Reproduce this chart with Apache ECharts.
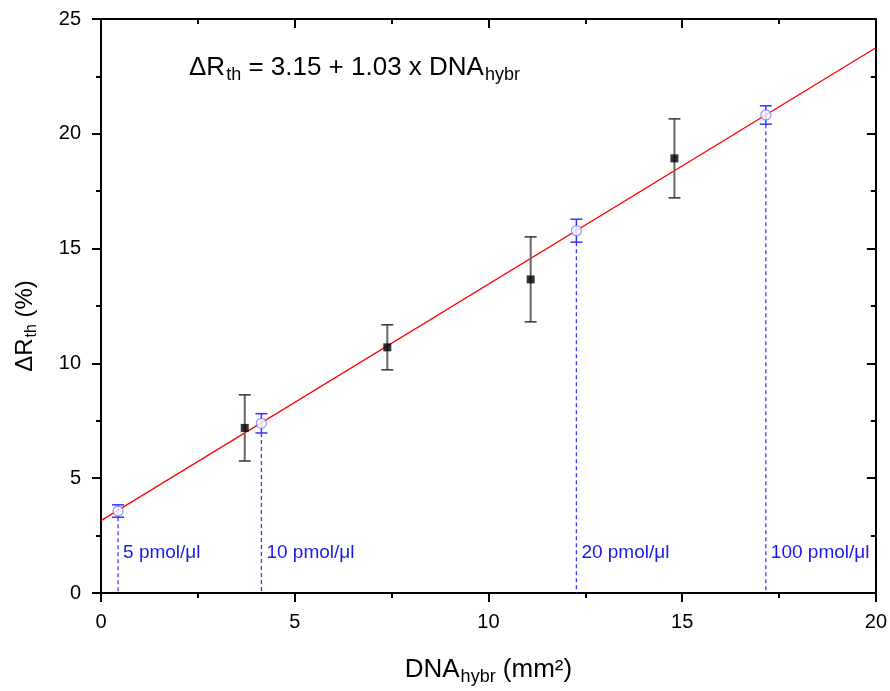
<!DOCTYPE html>
<html>
<head>
<meta charset="utf-8">
<script src="https://cdn.jsdelivr.net/npm/echarts@6/dist/echarts.min.js"></script>
<style>html,body{margin:0;padding:0;background:#fff;}#c{width:890px;height:691px;}</style>
</head>
<body>
<div id="c"></div>
<script>
// Measured data (black squares) : x, y, error
const sampleX = [3.71, 7.39, 11.09, 14.8];
const sampleY = [7.19, 10.70, 13.66, 18.93];
const sampleErr = [1.44, 0.98, 1.85, 1.72];
// Calibration points (open circles)
const calibX = [0.44, 4.14, 12.27, 17.16];
const calibY = [3.57, 7.39, 15.78, 20.82];
const calibErr = [0.27, 0.42, 0.50, 0.40];
const calibLabels = ['5 pmol/\u03bcl', '10 pmol/\u03bcl', '20 pmol/\u03bcl', '100 pmol/\u03bcl'];
// Linear fit endpoints
const fitX = [0, 20];
const fitY = [3.15, 23.75];
const xTicks = [0, 5, 10, 15, 20];
const yTicks = [0, 5, 10, 15, 20, 25];

const sampleData = sampleX.map((x, i) => [x, sampleY[i], sampleErr[i]]);
const calibData = calibX.map((x, i) => [x, calibY[i], calibErr[i], calibLabels[i]]);
const fitData = fitX.map((x, i) => [x, fitY[i]]);

const FONT = 'Liberation Sans, Arial, sans-serif';
const chart = echarts.init(document.getElementById('c'), null, {renderer: 'canvas'});

function errBar(stemColor, capColor, width) {
  return function (params, api) {
    const x = api.value(0), y = api.value(1), e = api.value(2);
    const top = api.coord([x, y + e]);
    const bot = api.coord([x, y - e]);
    const hw = 6;
    return {
      type: 'group',
      children: [
        {type: 'line', shape: {x1: top[0], y1: top[1], x2: bot[0], y2: bot[1]}, style: {stroke: stemColor, lineWidth: width}},
        {type: 'line', shape: {x1: top[0] - hw, y1: top[1], x2: top[0] + hw, y2: top[1]}, style: {stroke: capColor, lineWidth: 1.5}},
        {type: 'line', shape: {x1: bot[0] - hw, y1: bot[1], x2: bot[0] + hw, y2: bot[1]}, style: {stroke: capColor, lineWidth: 1.5}}
      ]
    };
  };
}

const axisCommonX = {
  type: 'value', min: 0, max: 20, interval: 5,
  axisLine: {show: true, onZero: false, lineStyle: {color: '#000', width: 2}},
  splitLine: {show: false},
  minorTick: {show: true, splitNumber: 2, length: 5, lineStyle: {color: '#000', width: 2}},
  minorSplitLine: {show: false}
};
const axisCommonY = {
  type: 'value', min: 0, max: 25, interval: 5,
  axisLine: {show: true, onZero: false, lineStyle: {color: '#000', width: 2}},
  splitLine: {show: false},
  minorTick: {show: true, splitNumber: 2, length: 5, lineStyle: {color: '#000', width: 2}},
  minorSplitLine: {show: false}
};

chart.setOption({
  animation: false,
  backgroundColor: '#fff',
  grid: {left: 101, right: 12, top: 19, bottom: 98},
  xAxis: [
    Object.assign({}, axisCommonX, {
      position: 'bottom',
      axisTick: {show: true, inside: false, length: 9, lineStyle: {color: '#000', width: 2}},
      axisLabel: {show: true, color: '#000', fontSize: 20, fontFamily: FONT, margin: 19},
      name: '{m|DNA}{s|hybr}{m| (mm\u00b2)}',
      nameLocation: 'middle', nameGap: 60,
      nameTextStyle: {
        rich: {
          m: {fontSize: 26, fontFamily: FONT, color: '#000'},
          s: {fontSize: 18, fontFamily: FONT, color: '#000', padding: [15, 0, 0, 1]}
        }
      }
    }),
    Object.assign({}, axisCommonX, {
      position: 'top',
      axisTick: {show: true, inside: true, length: 9, lineStyle: {color: '#000', width: 2}},
      axisLabel: {show: false}
    })
  ],
  yAxis: [
    Object.assign({}, axisCommonY, {
      position: 'left',
      axisTick: {show: true, inside: false, length: 9, lineStyle: {color: '#000', width: 2}},
      axisLabel: {show: true, color: '#000', fontSize: 20, fontFamily: FONT, margin: 20}
    }),
    Object.assign({}, axisCommonY, {
      position: 'right',
      axisTick: {show: true, inside: true, length: 9, lineStyle: {color: '#000', width: 2}},
      axisLabel: {show: false}
    })
  ],
  graphic: [
    {
      type: 'text', left: 189, top: 55, z: 100,
      style: {
        text: '{m|\u0394R}{s|th}{m| = 3.15 + 1.03 x DNA}{s|hybr}',
        rich: {
          m: {fontSize: 26, fontFamily: FONT, fill: '#000'},
          s: {fontSize: 18, fontFamily: FONT, fill: '#000', padding: [15, 0, 0, 1]}
        }
      }
    },
    {
      type: 'text', x: 25, y: 326, rotation: Math.PI / 2, z: 100,
      style: {
        text: '{m|\u0394R}{s|th}{m| (%)}',
        align: 'center', verticalAlign: 'middle',
        rich: {
          m: {fontSize: 24, fontFamily: FONT, fill: '#000'},
          s: {fontSize: 16, fontFamily: FONT, fill: '#000', padding: [14, 0, 0, 1]}
        }
      }
    }
  ],
  series: [
    {
      type: 'custom', name: 'dropLines', xAxisIndex: 0, yAxisIndex: 0, z: 2,
      data: calibData,
      renderItem: function (params, api) {
        const x = api.value(0), y = api.value(1), e = api.value(2);
        const p = api.coord([x, y - e]);
        const b = api.coord([x, 0]);
        return {
          type: 'group',
          children: [
            {type: 'line', shape: {x1: p[0], y1: p[1], x2: b[0], y2: b[1]}, style: {stroke: '#3a3aff', lineWidth: 1.3, lineDash: [4, 3]}},
            {type: 'text', x: b[0] + 5, y: b[1] - 40, style: {text: calibLabels[params.dataIndex], fill: '#1a1aee', fontSize: 19, fontFamily: FONT, verticalAlign: 'middle', align: 'left'}}
          ]
        };
      }
    },
    {
      type: 'line', name: 'fit', data: fitData, showSymbol: false, symbol: 'none', z: 3,
      lineStyle: {color: '#ff0000', width: 1.3}
    },
    {
      type: 'custom', name: 'sampleErr', data: sampleData, z: 4,
      renderItem: errBar('#666', '#333', 2)
    },
    {
      type: 'custom', name: 'calibErr', data: calibData, z: 4,
      renderItem: errBar('#3333ff', '#3333ff', 1.5)
    },
    {
      type: 'scatter', name: 'samples', data: sampleData, symbol: 'rect', symbolSize: 8, z: 5,
      itemStyle: {color: '#000'}
    },
    {
      type: 'scatter', name: 'calib', data: calibData, symbol: 'circle', symbolSize: 10, z: 5,
      itemStyle: {color: '#fff', borderColor: '#8080ff', borderWidth: 1.3}
    }
  ]
});
</script>
</body>
</html>
